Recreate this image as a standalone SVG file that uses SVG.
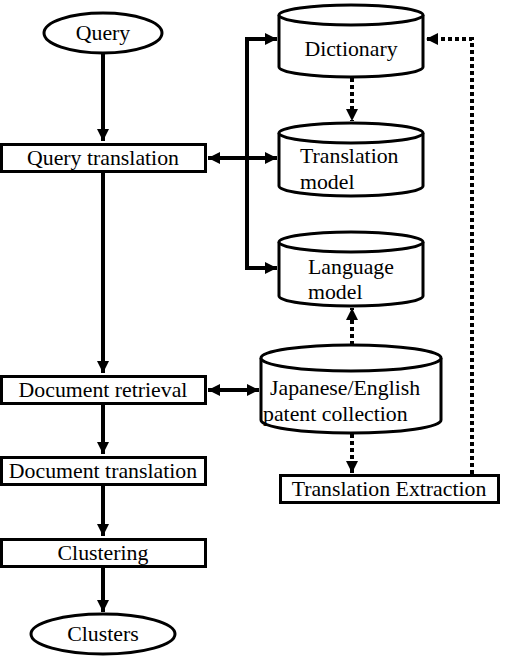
<svg xmlns="http://www.w3.org/2000/svg" width="512" height="656" viewBox="0 0 512 656">
<style>
.n{fill:#fff;stroke:#000;stroke-width:3}
.t{font-family:'Liberation Serif','Times New Roman','DejaVu Serif',serif;font-size:21.8px;fill:#000}
.c{text-anchor:middle}
.a{fill:none;stroke:#000;stroke-width:4}
.d{fill:none;stroke:#000;stroke-width:4;stroke-dasharray:4 3}
</style>
<defs>
<marker id="ah" markerUnits="userSpaceOnUse" markerWidth="12" markerHeight="12" refX="10" refY="5" orient="auto-start-reverse" viewBox="0 0 10 10">
<path d="M0,0 L10,5 L0,10 z" fill="#000"/>
</marker>
</defs>
<rect width="512" height="656" fill="#fff"/>
<g id="connectors">
<path class="a" d="M103,53 L103,141" marker-end="url(#ah)"/>
<path class="a" d="M103,173 L103,373" marker-end="url(#ah)"/>
<path class="a" d="M103,405 L103,454" marker-end="url(#ah)"/>
<path class="a" d="M103,486 L103,536" marker-end="url(#ah)"/>
<path class="a" d="M103,568 L103,612" marker-end="url(#ah)"/>
<path class="a" d="M208,158 L277,158" marker-start="url(#ah)" marker-end="url(#ah)"/>
<path class="a" d="M277,39 L247,39 L247,268 L277,268" marker-start="url(#ah)" marker-end="url(#ah)"/>
<path class="a" d="M208,390 L259,390" marker-start="url(#ah)" marker-end="url(#ah)"/>
<path class="d" d="M352,78 L352,121" marker-end="url(#ah)"/>
<path class="d" d="M352,345 L352,308" marker-end="url(#ah)"/>
<path class="d" d="M352,434 L352,473" marker-end="url(#ah)"/>
<path class="d" d="M472,474 L472,39 L426,39" marker-end="url(#ah)"/>
</g>
<g id="query">
<ellipse class="n" cx="103" cy="33" rx="59" ry="20"/>
<text class="t c" x="103" y="40">Query</text>
</g>
<g id="query-translation">
<rect class="n" x="1.5" y="144.5" width="204" height="27"/>
<text class="t c" x="103" y="165">Query translation</text>
</g>
<g id="document-retrieval">
<rect class="n" x="1.5" y="376.5" width="204" height="27"/>
<text class="t c" x="103" y="397">Document retrieval</text>
</g>
<g id="document-translation">
<rect class="n" x="1.5" y="457.5" width="204" height="27"/>
<text class="t c" x="103" y="478">Document translation</text>
</g>
<g id="clustering">
<rect class="n" x="1.5" y="539.5" width="204" height="27"/>
<text class="t c" x="103" y="560">Clustering</text>
</g>
<g id="clusters">
<ellipse class="n" cx="103" cy="634" rx="72" ry="20"/>
<text class="t c" x="103" y="641">Clusters</text>
</g>
<g id="dictionary">
<path class="n" d="M279,15 L279,67 A72,10 0 0 0 423,67 L423,15"/>
<ellipse class="n" cx="351" cy="15" rx="72" ry="10"/>
<text class="t c" x="351" y="56">Dictionary</text>
</g>
<g id="translation-model">
<path class="n" d="M279,133 L279,186 A72,10 0 0 0 423,186 L423,133"/>
<ellipse class="n" cx="351" cy="133" rx="72" ry="10"/>
<text class="t" x="300" y="163">Translation</text>
<text class="t" x="300" y="189">model</text>
</g>
<g id="language-model">
<path class="n" d="M279,242 L279,296 A72,10 0 0 0 423,296 L423,242"/>
<ellipse class="n" cx="351" cy="242" rx="72" ry="10"/>
<text class="t" x="308" y="274">Language</text>
<text class="t" x="308" y="299">model</text>
</g>
<g id="patent-collection">
<path class="n" d="M261,358 L261,420 A90,13 0 0 0 441,420 L441,358"/>
<ellipse class="n" cx="351" cy="358" rx="90" ry="13"/>
<text class="t" x="270" y="395">Japanese/English</text>
<text class="t" x="263" y="421">patent collection</text>
</g>
<g id="translation-extraction">
<rect class="n" x="280.5" y="475.5" width="218" height="27"/>
<text class="t c" x="389" y="496">Translation Extraction</text>
</g>
</svg>
